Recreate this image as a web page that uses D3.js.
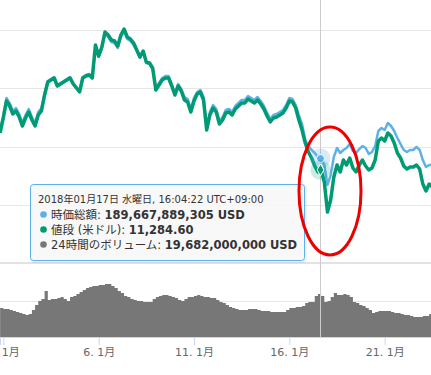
<!DOCTYPE html>
<html>
<head>
<meta charset="utf-8">
<script src="https://cdnjs.cloudflare.com/ajax/libs/d3/7.8.5/d3.min.js"></script>
<style>
body { margin: 0; background: #fff; overflow: hidden; }
svg { display: block; }
</style>
</head>
<body>
<div id="chart"></div>
<script>
// samples every 4 hours, starting 2017-12-31 20:00 (JST, stored as UTC)
var startTime = Date.UTC(2017, 11, 31, 20, 0);
var stepHours = 4;

// market cap, billions of USD
var capValues = [
  214.2, 227.0, 241.6, 237.3, 230.5, 233.0, 227.9, 220.2, 227.0, 232.2,
  225.3, 220.2, 229.6, 233.0, 245.9, 256.2, 257.9, 259.7, 252.8, 254.5,
  256.2, 257.9, 259.7, 254.5, 251.1, 247.6, 259.7, 261.4, 262.2, 259.7,
  285.4, 276.8, 283.7, 296.6, 294.0, 289.7, 288.8, 284.5, 294.0, 299.1,
  292.3, 290.6, 287.1, 282.0, 276.0, 281.1, 271.7, 270.8, 266.5, 250.2,
  254.5, 258.8, 260.5, 260.5, 253.6, 245.9, 253.6, 249.4, 242.5, 240.8,
  232.2, 241.6, 246.8, 248.5, 242.5, 216.7, 229.6, 235.6, 232.2, 221.9,
  225.3, 231.3, 232.2, 229.6, 234.8, 237.3, 239.9, 239.9, 243.3, 241.6,
  239.9, 242.5, 239.1, 234.8, 228.8, 223.6, 227.0, 227.9, 229.6, 231.3,
  235.6, 241.6, 240.8, 235.6, 227.0, 219.3, 205.6, 200.4, 197.0, 194.4,
  191.0, 189.3, 184.1, 167.0, 175.5, 191.0, 198.7, 194.4, 197.0, 198.7,
  202.1, 196.1, 194.4, 197.8, 200.4, 198.7, 193.6, 195.3, 200.4, 213.3,
  215.9, 214.2, 220.2, 217.6, 213.3, 207.3, 202.1, 197.0, 195.3, 197.0,
  197.0, 199.6, 197.0, 188.4, 182.4, 184.1, 184.1
];

// price, USD
var priceValues = [
  12760, 13360, 14040, 13840, 13520, 13640, 13400, 13040, 13360, 13600,
  13280, 13040, 13480, 13640, 14280, 14800, 14880, 14960, 14640, 14720,
  14800, 14880, 14960, 14720, 14560, 14400, 14960, 15040, 15080, 14960,
  16280, 15840, 16200, 16800, 16680, 16480, 16440, 16240, 16680, 16920,
  16600, 16520, 16360, 16080, 15800, 16040, 15600, 15560, 15360, 14480,
  14680, 14880, 14960, 14960, 14640, 14280, 14640, 14440, 14080, 14000,
  13600, 14040, 14320, 14400, 14080, 12880, 13480, 13760, 13600, 13120,
  13280, 13560, 13600, 13480, 13720, 13840, 13960, 13960, 14120, 14040,
  13960, 14080, 13920, 13720, 13440, 13200, 13360, 13400, 13480, 13560,
  13760, 14040, 14000, 13760, 13280, 12880, 12360, 12000, 11760, 11440,
  11200, 11280, 10800, 9600, 10080, 11000, 11480, 11200, 11680, 11480,
  11760, 11360, 11200, 11480, 11680, 11440, 11280, 11360, 11680, 12440,
  12560, 12440, 12760, 12640, 12360, 11960, 11760, 11440, 11320, 11400,
  11400, 11480, 11320, 10720, 10440, 10720, 10600
];

// 24h volume, billions of USD
var volumeValues = [
  13.9, 13.4, 13.4, 13.0, 12.5, 12.0, 11.5, 11.0, 10.6, 11.0,
  13.0, 15.4, 17.3, 18.2, 22.1, 17.8, 18.2, 18.2, 18.7, 19.2,
  18.2, 17.3, 19.2, 19.7, 20.6, 21.6, 22.6, 23.5, 24.0, 24.5,
  24.5, 25.0, 25.0, 25.4, 25.4, 24.5, 23.5, 22.1, 21.1, 19.7,
  19.2, 18.2, 17.8, 17.3, 17.3, 16.8, 16.8, 16.8, 18.2, 19.2,
  19.7, 20.2, 20.2, 19.7, 19.2, 18.7, 17.8, 17.3, 18.2, 19.2,
  19.2, 19.7, 20.2, 19.7, 19.2, 19.2, 18.7, 18.7, 17.8, 16.8,
  16.3, 15.4, 14.4, 13.9, 13.4, 13.0, 13.0, 13.0, 13.4, 13.4,
  13.4, 13.0, 12.5, 12.5, 12.5, 12.0, 12.0, 12.0, 12.0, 12.0,
  13.0, 13.9, 13.9, 14.4, 14.4, 14.9, 16.3, 16.8, 16.8, 19.7,
  20.6, 19.7, 16.8, 17.3, 19.2, 21.1, 20.2, 20.2, 20.6, 20.2,
  19.2, 16.8, 16.3, 15.4, 14.9, 13.9, 13.0, 11.5, 12.0, 12.5,
  12.5, 12.5, 12.5, 12.0, 11.5, 11.5, 11.0, 10.6, 10.6, 10.1,
  9.6, 9.6, 9.6, 10.1, 10.1, 11.0, 11.5
];

var capTicks = [100, 150, 200, 250, 300];
var volumeTicks = [17.5];
var tickDates = [1, 6, 11, 16, 21].map(function (d) { return new Date(Date.UTC(2018, 0, d)); });

// hovered point
var hoverTime = new Date(Date.UTC(2018, 0, 17, 16, 4, 22));
var hoverCap = 189.667889305;
var hoverPrice = 11284.60;
var tooltipHeader = "2018年01月17日 水曜日, 16:04:22 UTC+09:00";
var tooltipNames = ["時価総額", "値段 (米ドル)", "24時間のボリューム"];
var tooltipValues = ["189,667,889,305 USD", "11,284.60", "19,682,000,000 USD"];

var W = 431, H = 375;
var capColor = "#5eb1e8", priceColor = "#009b72", volColor = "#777777";
var fontStack = "'DejaVu Sans', 'Noto Sans CJK JP', sans-serif";

var svg = d3.select("#chart").append("svg")
    .attr("width", W).attr("height", H)
    .style("font-family", fontStack);

var x = d3.scaleUtc()
    .domain([new Date(Date.UTC(2017, 11, 31, 19, 51)), new Date(Date.UTC(2018, 0, 23, 10, 17))])
    .range([0, W]);
var yCap = d3.scaleLinear().domain([100, 300]).range([263, 30]);
var yPrice = d3.scaleLinear().domain([7560, 16880]).range([263, 30]);
var yVol = d3.scaleLinear().domain([0, 35.5]).range([337, 263]);

function timeAt(i) { return new Date(startTime + i * stepHours * 3600 * 1000); }

// grid lines
svg.append("g").selectAll("line")
    .data(capTicks.filter(function (d) { return d > 100; }))
    .enter().append("line")
    .attr("x1", 0).attr("x2", W)
    .attr("y1", function (d) { return Math.round(yCap(d)) + 0.5; })
    .attr("y2", function (d) { return Math.round(yCap(d)) + 0.5; })
    .attr("stroke", "#e6e6e6");

svg.append("line")
    .attr("x1", 0).attr("x2", W)
    .attr("y1", yCap(100)).attr("y2", yCap(100))
    .attr("stroke", "#e2e2e2").attr("stroke-width", 2);

svg.append("g").selectAll("line")
    .data(volumeTicks)
    .enter().append("line")
    .attr("x1", 0).attr("x2", W)
    .attr("y1", function (d) { return Math.round(yVol(d)) + 0.5; })
    .attr("y2", function (d) { return Math.round(yVol(d)) + 0.5; })
    .attr("stroke", "#e6e6e6");

// volume
var volArea = d3.area()
    .x(function (d, i) { return x(timeAt(i)); })
    .y0(yVol(0))
    .y1(function (d) { return yVol(d); })
    .curve(d3.curveStepAfter);

svg.append("path")
    .datum(volumeValues)
    .attr("d", volArea)
    .attr("fill", volColor);

// crosshair
var hx = Math.round(x(hoverTime)) - 0.5;
svg.append("line")
    .attr("x1", hx).attr("x2", hx)
    .attr("y1", 0).attr("y2", 337)
    .attr("stroke", "#cccccc");

// market cap and price lines
var capLine = d3.line()
    .x(function (d, i) { return x(timeAt(i)); })
    .y(function (d) { return yCap(d); });
var priceLine = d3.line()
    .x(function (d, i) { return x(timeAt(i)); })
    .y(function (d) { return yPrice(d); });

svg.append("path")
    .datum(capValues)
    .attr("d", capLine)
    .attr("fill", "none")
    .attr("stroke", capColor)
    .attr("stroke-width", 2.5)
    .attr("stroke-linejoin", "round");

svg.append("path")
    .datum(priceValues)
    .attr("d", priceLine)
    .attr("fill", "none")
    .attr("stroke", priceColor)
    .attr("stroke-width", 3.5)
    .attr("stroke-linejoin", "round");

// hover markers
var cy = yCap(hoverCap), py = yPrice(hoverPrice);
svg.append("circle").attr("cx", hx).attr("cy", cy).attr("r", 10)
    .attr("fill", capColor).attr("opacity", 0.25);
svg.append("circle").attr("cx", hx).attr("cy", cy).attr("r", 4)
    .attr("fill", capColor).attr("stroke", "#fff").attr("stroke-width", 1);
svg.append("circle").attr("cx", hx).attr("cy", py).attr("r", 10)
    .attr("fill", priceColor).attr("opacity", 0.2);
svg.append("path")
    .attr("d", d3.symbol().type(d3.symbolDiamond).size(40)())
    .attr("transform", "translate(" + hx + "," + py + ")")
    .attr("fill", priceColor).attr("stroke", "#fff").attr("stroke-width", 1);

// x axis
var xAxis = d3.axisBottom(x)
    .tickValues(tickDates)
    .tickSize(8)
    .tickFormat(function (d) { return d.getUTCDate() + ". " + (d.getUTCMonth() + 1) + "月"; });

var axisG = svg.append("g")
    .attr("transform", "translate(0,337)")
    .call(xAxis);
axisG.select(".domain").attr("stroke", "#ccd6eb");
axisG.selectAll(".tick line").attr("stroke", "#ccd6eb");
axisG.selectAll(".tick text")
    .attr("fill", "#666666")
    .attr("font-size", 11)
    .attr("font-family", fontStack);

// tooltip
var tip = svg.append("g");
tip.append("rect")
    .attr("x", 31.5).attr("y", 185.5)
    .attr("width", 274).attr("height", 76)
    .attr("rx", 3)
    .attr("fill", "none")
    .attr("stroke", "#000").attr("stroke-opacity", 0.06).attr("stroke-width", 3);
tip.append("rect")
    .attr("x", 30.5).attr("y", 184.5)
    .attr("width", 274).attr("height", 76)
    .attr("rx", 3)
    .attr("fill", "#f7f7f7").attr("fill-opacity", 0.85)
    .attr("stroke", capColor).attr("stroke-width", 1);

tip.append("text")
    .attr("x", 38).attr("y", 203)
    .attr("font-size", 10)
    .attr("fill", "#333333")
    .text(tooltipHeader);

var bulletColors = [capColor, priceColor, volColor];
var rowY = [219, 234, 249];
tooltipNames.forEach(function (name, i) {
    tip.append("circle")
        .attr("cx", 43.5).attr("cy", rowY[i] - 4.5).attr("r", 3.3)
        .attr("fill", bulletColors[i]);
    var t = tip.append("text")
        .attr("x", 51).attr("y", rowY[i])
        .attr("font-size", 11.5)
        .attr("fill", "#333333");
    t.append("tspan").text(name + ": ");
    t.append("tspan").attr("font-weight", "bold").text(tooltipValues[i]);
});

// red annotation ellipse
svg.append("ellipse")
    .attr("cx", 330).attr("cy", 191)
    .attr("rx", 31).attr("ry", 64)
    .attr("fill", "none")
    .attr("stroke", "#ee0000")
    .attr("stroke-width", 3);
</script>
</body>
</html>
